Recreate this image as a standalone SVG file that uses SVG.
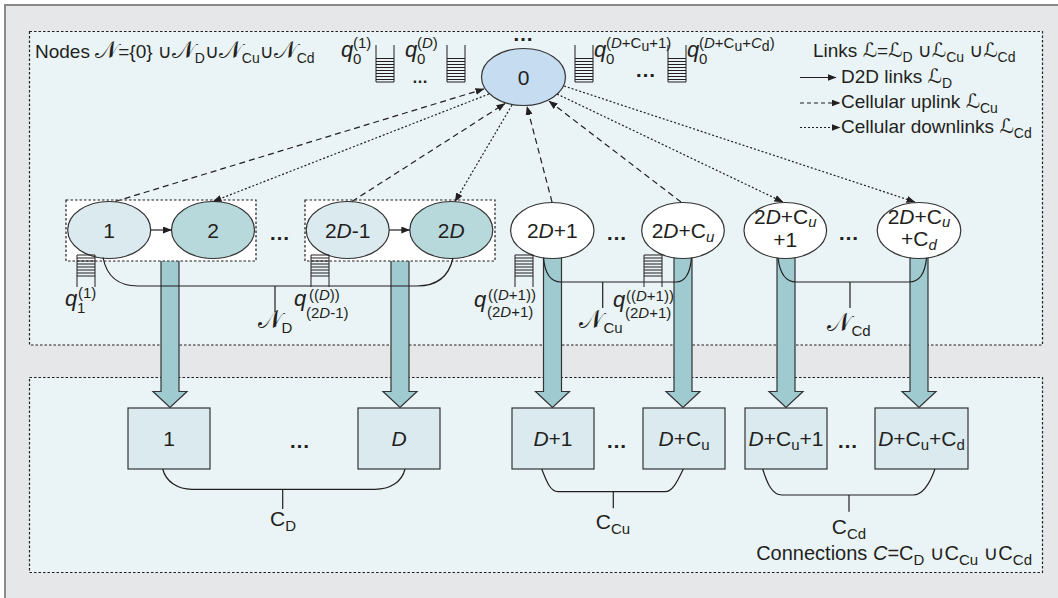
<svg xmlns="http://www.w3.org/2000/svg" width="1058" height="598" viewBox="0 0 1058 598">
<defs>
<style>
.t{font-family:"Liberation Sans","DejaVu Sans",sans-serif;fill:#231f20;}
.f21{font-size:21px;}
.f20{font-size:20px;}
.f19{font-size:19px;}
.f15{font-size:15px;}
.f14{font-size:14px;}
.i{font-style:italic;}
.q{font-size:22px;font-style:italic;}
.dots{font-size:21px;font-weight:bold;letter-spacing:1px;}
.sdots{font-size:16px;font-weight:bold;letter-spacing:2px;}
.scr{font-family:"DejaVu Sans","DejaVu Serif","Noto Sans",sans-serif;font-size:1.25em;}
.scl{font-family:"DejaVu Sans","DejaVu Serif","Noto Sans",sans-serif;font-size:1.05em;}
.ell{stroke:#333;stroke-width:1.2;}
.box{fill:#dbeaee;stroke:#333;stroke-width:1.2;}
.panel{fill:#eaf4f6;stroke:#231f20;stroke-width:1.2;stroke-dasharray:2.5 2;}
.grp{fill:#fff;stroke:#231f20;stroke-width:1.2;stroke-dasharray:2.5 2;}
.up{fill:none;stroke:#231f20;stroke-width:1.2;stroke-dasharray:6 4;}
.dn{fill:none;stroke:#231f20;stroke-width:1.2;stroke-dasharray:2 2;}
.sol{fill:none;stroke:#231f20;stroke-width:1.2;}
.br{fill:none;stroke:#231f20;stroke-width:1.2;}
.fat{fill:#9ecad0;stroke:#333;stroke-width:1.2;}
.qu{fill:none;stroke:#231f20;stroke-width:1;}
</style>
<marker id="ah" markerWidth="9" markerHeight="7" refX="8.5" refY="3.5" orient="auto" markerUnits="userSpaceOnUse"><path d="M0,0 L9,3.5 L0,7 Z" fill="#231f20" stroke="none"/></marker>
<g id="qtop"><path class="qu" d="M0,0 V37 H18 V0 M0,13.5 H18 M0,16.5 H18 M0,19.5 H18 M0,22.5 H18 M0,25.5 H18 M0,28.5 H18 M0,31.5 H18 M0,34.5 H18"/></g>
<g id="qnode"><path class="qu" d="M0,32 V0 H18 V32 M0,3 H18 M0,6 H18 M0,9 H18 M0,12 H18 M0,15 H18 M0,18 H18 M0,21 H18"/></g>
</defs>

<rect x="0" y="0" width="1058" height="598" fill="#ffffff"/>
<rect x="5" y="5" width="1053" height="593" fill="#e6e7e8"/>
<path d="M5,598 V5 H1058" fill="none" stroke="#8a8a8a" stroke-width="2"/>

<rect class="panel" x="29.5" y="31.5" width="1013" height="313.5"/>
<rect class="panel" x="29.5" y="377.5" width="1013" height="195"/>

<!-- header texts -->
<text class="t f19" x="35" y="58">Nodes <tspan class="scr">𝒩</tspan>={0} ∪<tspan class="scr">𝒩</tspan><tspan class="f14" dy="5">D</tspan><tspan dy="-5">∪</tspan><tspan class="scr">𝒩</tspan><tspan class="f14" dy="5">Cu</tspan><tspan dy="-5">∪</tspan><tspan class="scr">𝒩</tspan><tspan class="f14" dy="5">Cd</tspan></text>

<text class="t f19" x="813" y="57">Links <tspan class="scl">ℒ</tspan>=<tspan class="scl">ℒ</tspan><tspan class="f14" dy="5">D</tspan><tspan dy="-5"> ∪</tspan><tspan class="scl">ℒ</tspan><tspan class="f14" dy="5">Cu</tspan><tspan dy="-5"> ∪</tspan><tspan class="scl">ℒ</tspan><tspan class="f14" dy="5">Cd</tspan></text>
<g id="legend">
<path class="sol" d="M800,77.5 H836" marker-end="url(#ah)"/>
<path class="up" style="stroke-dasharray:4 3" d="M800,103 H840" marker-end="url(#ah)"/>
<path class="dn" d="M800,127.5 H840" marker-end="url(#ah)"/>
<text class="t f19" x="841" y="83">D2D links <tspan class="scl">ℒ</tspan><tspan class="f14" dy="5">D</tspan></text>
<text class="t f19" x="841" y="108">Cellular uplink <tspan class="scl">ℒ</tspan><tspan class="f14" dy="5">Cu</tspan></text>
<text class="t f19" x="841" y="133">Cellular downlinks <tspan class="scl">ℒ</tspan><tspan class="f14" dy="5">Cd</tspan></text>
</g>

<!-- top queues of node 0 -->
<g id="queues0">
<use href="#qtop" x="376" y="45"/>
<use href="#qtop" x="447" y="45"/>
<use href="#qtop" x="575" y="45"/>
<use href="#qtop" x="668" y="45"/>
<text class="t q" x="341" y="57">q</text><text class="t f15" x="353" y="64">0</text><text class="t f15" x="353" y="48">(1)</text>
<text class="t q" x="405" y="57">q</text><text class="t f15" x="417" y="64">0</text><text class="t f15" x="417" y="48">(<tspan class="i">D</tspan>)</text>
<text class="t q" x="594" y="57">q</text><text class="t f15" x="606" y="64">0</text><text class="t f15" x="606" y="48">(<tspan class="i">D</tspan>+C<tspan class="f14" dy="3">u</tspan><tspan dy="-3">+1)</tspan></text>
<text class="t q" x="687" y="57">q</text><text class="t f15" x="699" y="64">0</text><text class="t f15" x="699" y="48">(<tspan class="i">D</tspan>+C<tspan class="f14" dy="3">u</tspan><tspan dy="-3">+</tspan><tspan class="i">C</tspan><tspan class="f14" dy="3">d</tspan><tspan dy="-3">)</tspan></text>
<text class="t sdots" x="421" y="83" text-anchor="middle">…</text>
<text class="t dots" x="646" y="77" text-anchor="middle">…</text>
<text class="t dots" x="523.5" y="41" text-anchor="middle">…</text>
</g>

<!-- fat flow arrows -->
<g id="flows">
<path class="fat" d="M161,258 V391.5 H153 L170,407.5 L187,391.5 H179 V258 Z"/>
<path class="fat" d="M391,258 V391.5 H383 L400,407.5 L417,391.5 H409 V258 Z"/>
<path class="fat" d="M543.5,250 V391.5 H535.5 L552.5,407.5 L569.5,391.5 H561.5 V250 Z"/>
<path class="fat" d="M674,250 V391.5 H666 L683,407.5 L700,391.5 H692 V250 Z"/>
<path class="fat" d="M777,250 V391.5 H769 L786,407.5 L803,391.5 H795 V250 Z"/>
<path class="fat" d="M910,250 V391.5 H902 L919,407.5 L936,391.5 H928 V250 Z"/>
</g>

<!-- node 0 -->
<g id="node-0">
<ellipse class="ell" cx="523.5" cy="77" rx="42" ry="28.5" fill="#c6ddf1"/>
<text class="t f21" x="523.5" y="84.5" text-anchor="middle">0</text>
</g>

<!-- D2D pair boxes -->
<g id="pair-1"><rect class="grp" x="66" y="200" width="190" height="61"/></g>
<g id="pair-D"><rect class="grp" x="305" y="200" width="190" height="61"/></g>

<g id="node-1"><ellipse class="ell" cx="109.2" cy="230" rx="41.5" ry="28.5" fill="#dbeaee"/><text class="t f21" x="109.2" y="237.5" text-anchor="middle">1</text></g>
<g id="node-2"><ellipse class="ell" cx="213" cy="230" rx="41.5" ry="28.5" fill="#b8d9dc"/><text class="t f21" x="213" y="237.5" text-anchor="middle">2</text></g>
<g id="node-2D-1"><ellipse class="ell" cx="347.7" cy="230" rx="41.5" ry="28.5" fill="#dbeaee"/><text class="t f21" x="347.7" y="237.5" text-anchor="middle">2<tspan class="i">D</tspan>-1</text></g>
<g id="node-2D"><ellipse class="ell" cx="451.3" cy="230" rx="41.5" ry="28.5" fill="#b8d9dc"/><text class="t f21" x="451.3" y="237.5" text-anchor="middle">2<tspan class="i">D</tspan></text></g>
<g id="node-2D+1"><ellipse class="ell" cx="552.3" cy="230.5" rx="41.7" ry="28" fill="#fff"/><text class="t f21" x="552.3" y="237.5" text-anchor="middle">2<tspan class="i">D</tspan>+1</text></g>
<g id="node-2D+Cu"><ellipse class="ell" cx="683" cy="230.5" rx="41.3" ry="28" fill="#fff"/><text class="t f21" x="683" y="237.5" text-anchor="middle">2<tspan class="i">D</tspan>+C<tspan class="f15 i" dy="4">u</tspan></text></g>
<g id="node-2D+Cu+1"><ellipse class="ell" cx="785.3" cy="230.5" rx="41.3" ry="28" fill="#fff"/><text class="t f21" x="785.3" y="224" text-anchor="middle">2<tspan class="i">D</tspan>+C<tspan class="f15 i" dy="3">u</tspan></text><text class="t f21" x="785.3" y="247" text-anchor="middle">+1</text></g>
<g id="node-2D+Cu+Cd"><ellipse class="ell" cx="919" cy="230.5" rx="41.8" ry="28" fill="#fff"/><text class="t f21" x="919" y="224" text-anchor="middle">2<tspan class="i">D</tspan>+C<tspan class="f15 i" dy="3">u</tspan></text><text class="t f21" x="919" y="246" text-anchor="middle">+C<tspan class="f15 i" dy="4">d</tspan></text></g>

<text class="t dots" x="280" y="240" text-anchor="middle">…</text>
<text class="t dots" x="617" y="240" text-anchor="middle">…</text>
<text class="t dots" x="849" y="240" text-anchor="middle">…</text>

<!-- node queues -->
<g id="queues-nodes">
<use href="#qnode" x="77" y="255"/>
<use href="#qnode" x="311" y="255"/>
<use href="#qnode" x="515" y="255"/>
<use href="#qnode" x="644" y="255"/>
<text class="t q" x="65" y="306">q</text><text class="t f15" x="78" y="298">(1)</text><text class="t f15" x="77" y="313">1</text>
<text class="t q" x="294" y="306">q</text><text class="t f15" x="309" y="300">((<tspan class="i">D</tspan>))</text><text class="t f15" x="306" y="318">(2<tspan class="i">D</tspan>-1)</text>
<text class="t q" x="474" y="307">q</text><text class="t f15" x="488" y="300">((<tspan class="i">D</tspan>+1))</text><text class="t f15" x="487" y="317">(2<tspan class="i">D</tspan>+1)</text>
<text class="t q" x="613" y="307">q</text><text class="t f15" x="626" y="301">((<tspan class="i">D</tspan>+1))</text><text class="t f15" x="625" y="318">(2<tspan class="i">D</tspan>+1)</text>
</g>

<!-- bottom connections -->
<g id="conn-1"><rect class="box" x="128" y="408" width="82" height="61"/><text class="t f21" x="169" y="446" text-anchor="middle">1</text></g>
<g id="conn-D"><rect class="box" x="358" y="408" width="82" height="61"/><text class="t f21 i" x="399" y="446" text-anchor="middle">D</text></g>
<g id="conn-D+1"><rect class="box" x="512" y="408" width="82" height="61"/><text class="t f21" x="553" y="446" text-anchor="middle"><tspan class="i">D</tspan>+1</text></g>
<g id="conn-D+Cu"><rect class="box" x="643" y="408" width="82" height="61"/><text class="t f21" x="684" y="446" text-anchor="middle"><tspan class="i">D</tspan>+C<tspan class="f15" dy="4">u</tspan></text></g>
<g id="conn-D+Cu+1"><rect class="box" x="745" y="408" width="82" height="61"/><text class="t f21" x="786" y="446" text-anchor="middle"><tspan class="i">D</tspan>+C<tspan class="f15" dy="4">u</tspan><tspan dy="-4">+1</tspan></text></g>
<g id="conn-D+Cu+Cd"><rect class="box" x="875" y="408" width="93" height="61"/><text class="t f21" x="921.5" y="446" text-anchor="middle"><tspan class="i">D</tspan>+C<tspan class="f15" dy="4">u</tspan><tspan dy="-4">+C</tspan><tspan class="f15" dy="4">d</tspan></text></g>
<text class="t dots" x="300" y="448" text-anchor="middle">…</text>
<text class="t dots" x="617" y="448" text-anchor="middle">…</text>
<text class="t dots" x="848" y="448" text-anchor="middle">…</text>

<!-- set brackets -->
<g id="brackets">
<path class="br" d="M103,257.5 C107,278 120,286 138,286 L417,286 C437,286 449,276 453,258 M275,286 V312"/>
<path class="br" d="M543.5,258 C545,274 551,282 561,282 L676,282 C685,282 690,274 691.5,258 M602.7,282 V308"/>
<path class="br" d="M778,258 C780,274 786,282 796,282 L909,282 C919,282 925,274 926.5,258 M850,282 V308"/>
<path class="br" d="M162.7,469 C166,482 178,489.3 192,489.3 L375,489.3 C390,489.3 402,482 405,469 M282.7,489.3 V509"/>
<path class="br" d="M541.7,469 C546,480 550,491.7 558,491.7 L665,491.7 C673,491.7 678,480 683.3,469 M613.3,491.7 V508.3"/>
<path class="br" d="M762.7,469 C767,483 772,495 782,495 L913,495 C923,495 930,483 935,469 M849,495 V511.7"/>
<text class="t f20" x="275" y="328" text-anchor="middle"><tspan class="scr">𝒩</tspan><tspan class="f15" dy="5">D</tspan></text>
<text class="t f20" x="601" y="328" text-anchor="middle"><tspan class="scr">𝒩</tspan><tspan class="f15" dy="5">Cu</tspan></text>
<text class="t f20" x="849" y="331" text-anchor="middle"><tspan class="scr">𝒩</tspan><tspan class="f15" dy="5">Cd</tspan></text>
<text class="t f21" x="283" y="526" text-anchor="middle">C<tspan class="f15" dy="5">D</tspan></text>
<text class="t f21" x="613" y="529" text-anchor="middle">C<tspan class="f15" dy="5">Cu</tspan></text>
<text class="t f21" x="849" y="534" text-anchor="middle">C<tspan class="f15" dy="5">Cd</tspan></text>
<text class="t f20" x="1032" y="560" text-anchor="end">Connections <tspan class="i">C</tspan>=C<tspan class="f15" dy="5">D</tspan><tspan dy="-5"> ∪C</tspan><tspan class="f15" dy="5">Cu</tspan><tspan dy="-5"> ∪C</tspan><tspan class="f15" dy="5">Cd</tspan></text>
</g>

<!-- links -->
<g id="connectors">
<path class="up" d="M115,201.5 L484,89" marker-end="url(#ah)"/>
<path class="up" d="M352,201.5 L505,103.5" marker-end="url(#ah)"/>
<path class="up" d="M552,202 L527,106.5" marker-end="url(#ah)"/>
<path class="up" d="M681,202 L549,101" marker-end="url(#ah)"/>
<path class="dn" d="M489,94 L213,201.5" marker-end="url(#ah)"/>
<path class="dn" d="M512,105 L455,201.5" marker-end="url(#ah)"/>
<path class="dn" d="M557,94 L783,202" marker-end="url(#ah)"/>
<path class="dn" d="M564,86 L915,202" marker-end="url(#ah)"/>
<path class="sol" d="M150.8,230 L171.5,230" marker-end="url(#ah)"/>
<path class="sol" d="M389.3,230 L409.8,230" marker-end="url(#ah)"/>
</g>
</svg>
